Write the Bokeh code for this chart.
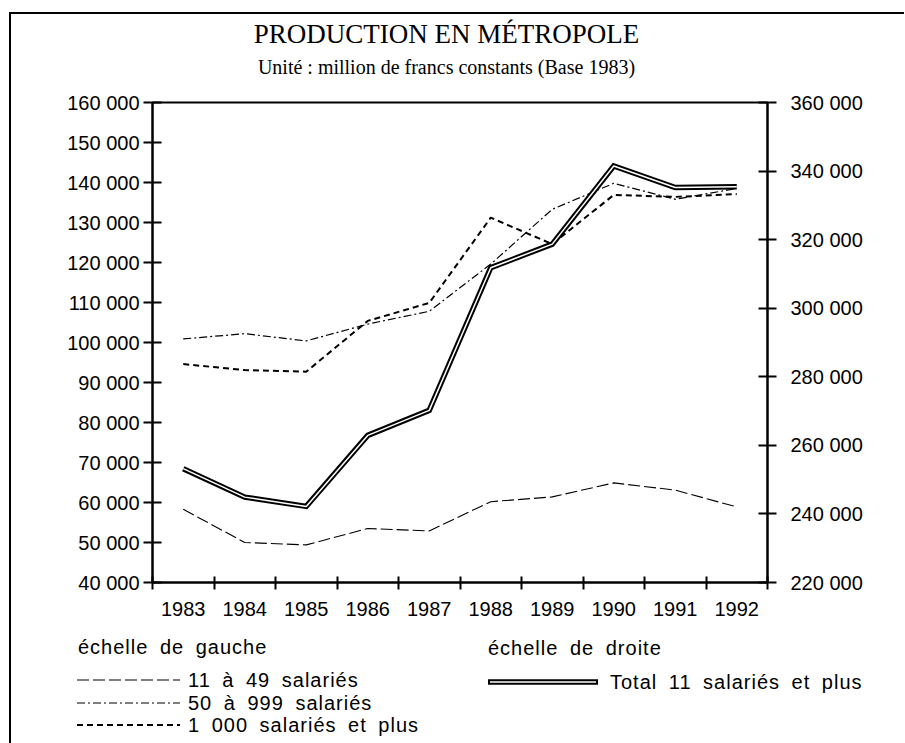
from bokeh.plotting import figure
from bokeh.layouts import column
from bokeh.models import (Range1d, LinearAxis, FixedTicker, Label, Div,
                          CustomJSTickFormatter, GlobalInlineStyleSheet)
from bokeh.embed import file_html
from bokeh.resources import INLINE

# ---------------- data ----------------
years = ["1983", "1984", "1985", "1986", "1987", "1988", "1989", "1990", "1991", "1992"]
s_11_49 = [58300, 50000, 49400, 53500, 52900, 60200, 61400, 64900, 63100, 58900]
s_50_999 = [100900, 102200, 100400, 104600, 107800, 119600, 133300, 139800, 135800, 138500]
s_1000_plus = [94600, 93100, 92700, 105400, 109900, 131200, 124600, 136900, 136400, 137100]
total_11_plus = [253200, 244900, 242200, 262900, 270200, 311800, 318700, 341500, 335200, 335400]
left_ticks = [40000, 50000, 60000, 70000, 80000, 90000, 100000, 110000, 120000, 130000,
              140000, 150000, 160000]
right_ticks = [220000, 240000, 260000, 280000, 300000, 320000, 340000, 360000]

title_text = "PRODUCTION EN MÉTROPOLE"
subtitle_text = "Unité : million de francs constants (Base 1983)"
label_11_49 = "11 à 49 salariés"
label_50_999 = "50 à 999 salariés"
label_1000 = "1 000 salariés et plus"
label_total = "Total 11 salariés et plus"
head_left = "échelle de gauche"
head_right = "échelle de droite"

FONT = "Liberation Sans"
SERIF = "Liberation Serif"
W = 893
H_HEAD = 70
H_MAIN = 541
H_LEG = 118

NX = len(years)
xs = [i + 0.5 for i in range(NX)]
bounds = list(range(NX + 1))

# series styles, shared by the chart and its key
st_11_49 = dict(width=1.1, dash="12 4")
st_50_999 = dict(width=1.2, dash="8 3 2 3")
st_1000 = dict(width=2.0, dash="6 4")
st_tot_outer = dict(width=5.5)
st_tot_inner = dict(width=1.5)

# ---------------- header (title + subtitle) ----------------
head = figure(width=W, height=H_HEAD, output_backend="svg", toolbar_location=None,
              x_axis_type=None, y_axis_type=None, x_range=Range1d(0, NX),
              y_range=Range1d(H_HEAD, 0), min_border=0)
head.outline_line_color = None
head.xgrid.visible = False
head.ygrid.visible = False
head.add_layout(Label(x=4.78, y=19, text=title_text, text_align="center", text_baseline="middle",
                      text_font=SERIF, text_font_size="27px", text_color="black"))
head.add_layout(Label(x=4.78, y=52, text=subtitle_text, text_align="center", text_baseline="middle",
                      text_font=SERIF, text_font_size="20px", text_color="black"))

# ---------------- main chart ----------------
p = figure(width=W, height=H_MAIN, output_backend="svg", toolbar_location=None,
           x_range=Range1d(0, NX), y_range=Range1d(40000, 160000),
           min_border_left=141, min_border_right=W - 756, min_border_top=18,
           min_border_bottom=H_MAIN - 18 - 480)
p.extra_y_ranges = {"right": Range1d(220000, 360000)}
p.xgrid.visible = False
p.ygrid.visible = False
p.outline_line_color = "black"
p.outline_line_width = 2

thousands = CustomJSTickFormatter(code=r"return tick.toFixed(0).replace(/\B(?=(\d{3})+(?!\d))/g, ' ');")

ly = p.yaxis[0]
ly.ticker = FixedTicker(ticks=left_ticks)
ly.formatter = thousands
ry = LinearAxis(y_range_name="right", ticker=FixedTicker(ticks=right_ticks), formatter=thousands)
p.add_layout(ry, "right")

for ax, so in ((ly, 4), (ry, 14)):
    ax.axis_line_width = 2
    ax.major_tick_line_width = 2
    ax.major_tick_in = 9
    ax.major_tick_out = 9
    ax.minor_tick_in = 0
    ax.minor_tick_out = 0
    ax.major_label_text_font = FONT
    ax.major_label_text_font_size = "20px"
    ax.major_label_text_color = "black"
    ax.major_label_standoff = so

bx = p.xaxis[0]
bx.ticker = FixedTicker(ticks=xs, minor_ticks=bounds)
bx.formatter = CustomJSTickFormatter(args=dict(labels=years),
                                     code="return labels[Math.round(tick - 0.5)];")
bx.axis_line_width = 2
bx.major_tick_in = 0
bx.major_tick_out = 0
bx.minor_tick_in = 6
bx.minor_tick_out = 7
bx.minor_tick_line_width = 2
bx.minor_tick_line_color = "black"
bx.major_label_text_font = FONT
bx.major_label_text_font_size = "20px"
bx.major_label_text_color = "black"
bx.major_label_standoff = 12

p.line(xs, s_11_49, line_color="black", line_width=st_11_49["width"], line_dash=st_11_49["dash"])
p.line(xs, s_50_999, line_color="black", line_width=st_50_999["width"], line_dash=st_50_999["dash"])
p.line(xs, s_1000_plus, line_color="black", line_width=st_1000["width"], line_dash=st_1000["dash"])
p.line(xs, total_11_plus, y_range_name="right", line_color="black",
       line_width=st_tot_outer["width"], line_join="miter")
p.line(xs, total_11_plus, y_range_name="right", line_color="white",
       line_width=st_tot_inner["width"])

# ---------------- key (below the chart) ----------------
TXT = ('font-family="Liberation Sans" font-size="20" fill="black" '
       'letter-spacing="1" word-spacing="5"')


def key_line(x0, x1, y, st, color="black"):
    dash = f' stroke-dasharray="{st["dash"]}"' if "dash" in st else ""
    return (f'<line x1="{x0}" y1="{y}" x2="{x1}" y2="{y}" stroke="{color}" '
            f'stroke-width="{st["width"]}"{dash}/>')


def key_text(x, y, s):
    return f'<text x="{x}" y="{y}" {TXT}>{s}</text>'


parts = [
    key_text(67, 29, head_left),
    key_line(66, 169, 55, st_11_49), key_text(177, 62, label_11_49),
    key_line(66, 169, 78, st_50_999), key_text(177, 85, label_50_999),
    key_line(66, 169, 100, st_1000), key_text(177, 107, label_1000),
    key_text(477, 30, head_right),
    key_line(477, 587, 57, st_tot_outer), key_line(479, 585, 57, st_tot_inner, "white"),
    key_text(599, 64, label_total),
]
svg = (f'<svg xmlns="http://www.w3.org/2000/svg" width="{W}" height="{H_LEG}" '
       f'style="display:block">' + "".join(parts) + "</svg>")
key = Div(text=svg, width=W, height=H_LEG, margin=0, styles={"overflow": "hidden"})

layout = column(head, p, key, spacing=0, margin=(12, 0, 0, 9),
                styles={"border-left": "2px solid black", "border-top": "2px solid black"},
                stylesheets=[GlobalInlineStyleSheet(css="html, body { overflow: hidden; }")])

open("out.html", "w").write(file_html(layout, INLINE))
